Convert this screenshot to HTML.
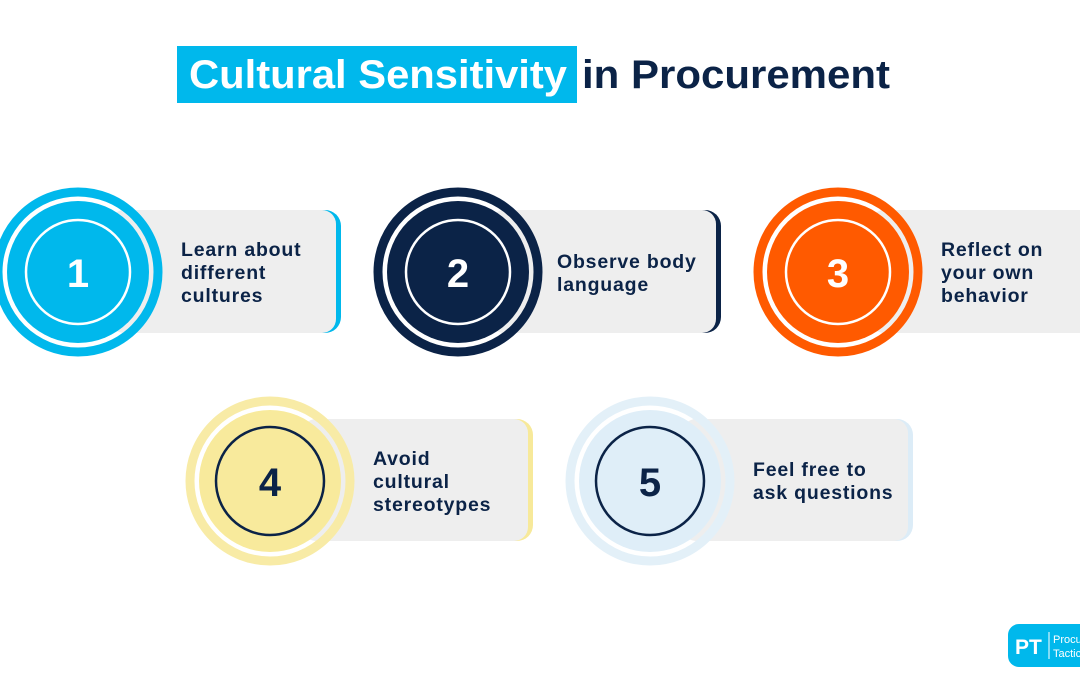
<!DOCTYPE html>
<html><head><meta charset="utf-8"><style>
html,body{margin:0;padding:0;background:#fff;width:1080px;height:675px;overflow:hidden;font-family:"Liberation Sans",sans-serif}
</style></head><body>
<svg width="1080" height="675" viewBox="0 0 1080 675" xmlns="http://www.w3.org/2000/svg" font-family="Liberation Sans, sans-serif" font-weight="bold">
<rect x="177" y="46" width="400" height="57" fill="#00b8ec"/>
<text x="189" y="88" font-size="40" fill="#fff" textLength="378" lengthAdjust="spacingAndGlyphs">Cultural Sensitivity</text>
<text x="582" y="88" font-size="40" fill="#0b2347" textLength="308" lengthAdjust="spacingAndGlyphs">in Procurement</text>

<!-- item 1 -->
<rect x="110" y="210" width="231" height="123" rx="16" fill="#00b8ec"/>
<rect x="110" y="210" width="226" height="123" rx="14" fill="#eeeeee"/>
<circle cx="78" cy="272" r="80" fill="none" stroke="#00b8ec" stroke-width="9"/>
<circle cx="78" cy="272" r="71" fill="#00b8ec"/>
<circle cx="78" cy="272" r="52" fill="none" stroke="#fff" stroke-width="2.5"/>
<text x="78" y="287" font-size="40" fill="#fff" text-anchor="middle">1</text>
<g font-size="19.5" fill="#0b2347" letter-spacing="0.8"><text x="181" y="256">Learn about</text><text x="181" y="279">different</text><text x="181" y="302">cultures</text></g>

<!-- item 2 -->
<rect x="490" y="210" width="231" height="123" rx="16" fill="#0b2347"/>
<rect x="490" y="210" width="226" height="123" rx="14" fill="#eeeeee"/>
<circle cx="458" cy="272" r="80" fill="none" stroke="#0b2347" stroke-width="9"/>
<circle cx="458" cy="272" r="71" fill="#0b2347"/>
<circle cx="458" cy="272" r="52" fill="none" stroke="#fff" stroke-width="2.5"/>
<text x="458" y="287" font-size="40" fill="#fff" text-anchor="middle">2</text>
<g font-size="19.5" fill="#0b2347" letter-spacing="0.8"><text x="557" y="268">Observe body</text><text x="557" y="291">language</text></g>

<!-- item 3 -->
<rect x="870" y="210" width="231" height="123" rx="16" fill="#ff5a00"/>
<rect x="870" y="210" width="226" height="123" rx="14" fill="#eeeeee"/>
<circle cx="838" cy="272" r="80" fill="none" stroke="#ff5a00" stroke-width="9"/>
<circle cx="838" cy="272" r="71" fill="#ff5a00"/>
<circle cx="838" cy="272" r="52" fill="none" stroke="#fff" stroke-width="2.5"/>
<text x="838" y="287" font-size="40" fill="#fff" text-anchor="middle">3</text>
<g font-size="19.5" fill="#0b2347" letter-spacing="0.8"><text x="941" y="256">Reflect on</text><text x="941" y="279">your own</text><text x="941" y="302">behavior</text></g>

<!-- item 4 -->
<rect x="302" y="419" width="231" height="122" rx="16" fill="#f7e99a"/>
<rect x="302" y="419" width="226" height="122" rx="14" fill="#eeeeee"/>
<circle cx="270" cy="481" r="80" fill="none" stroke="#f8eba6" stroke-width="9"/>
<circle cx="270" cy="481" r="71" fill="#f8ea9c"/>
<circle cx="270" cy="481" r="54" fill="none" stroke="#0b2347" stroke-width="2.5"/>
<text x="270" y="496" font-size="40" fill="#0b2347" text-anchor="middle">4</text>
<g font-size="19.5" fill="#0b2347" letter-spacing="0.8"><text x="373" y="465">Avoid</text><text x="373" y="488">cultural</text><text x="373" y="511">stereotypes</text></g>

<!-- item 5 -->
<rect x="682" y="419" width="231" height="122" rx="16" fill="#dcecf7"/>
<rect x="682" y="419" width="226" height="122" rx="14" fill="#eeeeee"/>
<circle cx="650" cy="481" r="80" fill="none" stroke="#e3f0f8" stroke-width="9"/>
<circle cx="650" cy="481" r="71" fill="#dfeef8"/>
<circle cx="650" cy="481" r="54" fill="none" stroke="#0b2347" stroke-width="2.5"/>
<text x="650" y="496" font-size="40" fill="#0b2347" text-anchor="middle">5</text>
<g font-size="19.5" fill="#0b2347" letter-spacing="0.8"><text x="753" y="476">Feel free to</text><text x="753" y="499">ask questions</text></g>

<!-- logo -->
<rect x="1008" y="624" width="90" height="43" rx="11" fill="#00b8ec"/>
<text x="1015" y="654" font-size="21" fill="#fff">PT</text>
<line x1="1049" y1="632" x2="1049" y2="659" stroke="#fff" stroke-width="1"/>
<g font-size="11" font-weight="normal" fill="#fff"><text x="1053" y="643">Procu</text><text x="1053" y="657">Tactic</text></g>
</svg>
</body></html>
